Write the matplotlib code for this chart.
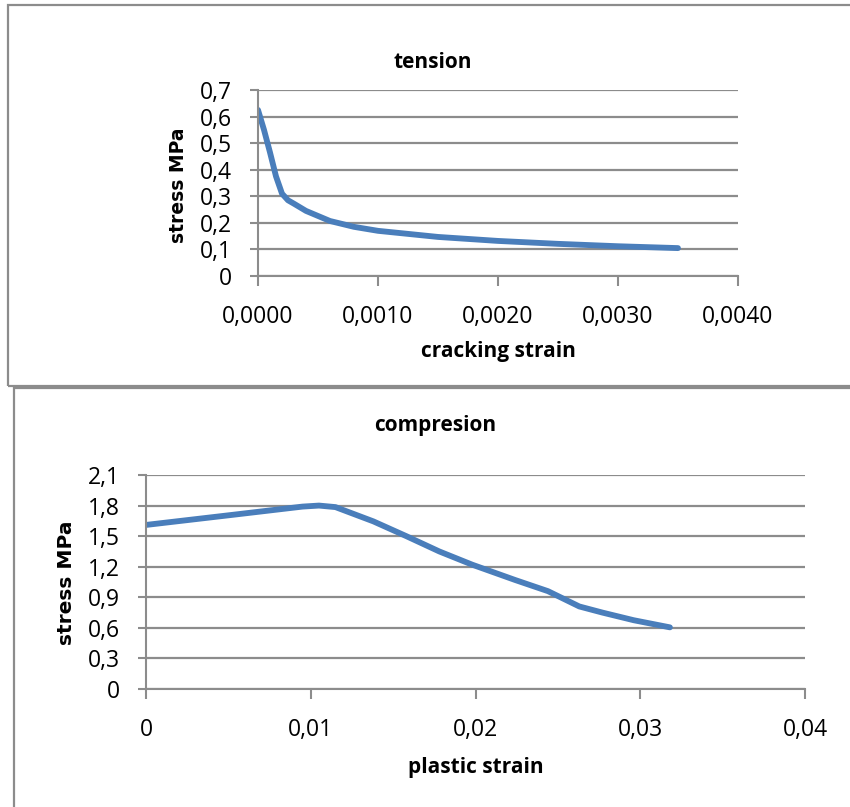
import matplotlib.pyplot as plt
from matplotlib.patches import Rectangle
from matplotlib.ticker import FuncFormatter

# tension: cracking strain vs stress
t_strain = [0.0, 0.00005, 0.0001, 0.00015, 0.0002, 0.00025, 0.0003, 0.0004, 0.0006,
            0.0008, 0.001, 0.0015, 0.002, 0.0025, 0.003, 0.0035]
t_stress = [0.625, 0.55, 0.465, 0.375, 0.31, 0.285, 0.272, 0.245, 0.207,
            0.185, 0.170, 0.147, 0.132, 0.121, 0.112, 0.105]

# compression: plastic strain vs stress
c_strain = [0.0, 0.0053, 0.0095, 0.0105, 0.0115, 0.0138, 0.0158, 0.0178, 0.0198,
            0.0224, 0.0244, 0.0263, 0.0277, 0.0296, 0.0318]
c_stress = [1.61, 1.71, 1.79, 1.80, 1.785, 1.645, 1.50, 1.35, 1.22,
            1.07, 0.96, 0.81, 0.75, 0.675, 0.605]

t_xticks = [0, 0.001, 0.002, 0.003, 0.004]
t_yticks = [0, 0.1, 0.2, 0.3, 0.4, 0.5, 0.6, 0.7]
c_xticks = [0, 0.01, 0.02, 0.03, 0.04]
c_yticks = [0, 0.3, 0.6, 0.9, 1.2, 1.5, 1.8, 2.1]

W, H = 850, 807
grey = '#8c8c8c'
blue = '#4a7ebb'
tick_font = 'Open Sans'

fig = plt.figure(figsize=(8.5, 8.07), dpi=100)

# chart frames
fig.add_artist(Rectangle((7.5 / W, 1 - 386 / H), 900 / W, 381 / H, transform=fig.transFigure,
                         fill=False, edgecolor=grey, lw=1.6))
fig.add_artist(Rectangle((14 / W, -0.05), 900 / W, 1 - 388 / H + 0.05, transform=fig.transFigure,
                         fill=False, edgecolor=grey, lw=1.6))


def comma(fmt):
    return FuncFormatter(lambda v, p: (fmt % v).replace('.', ','))


def style(ax, xt, yt, xfmt, yfmt):
    ax.set_xlim(xt[0], xt[-1])
    ax.set_ylim(yt[0], yt[-1])
    ax.set_xticks(xt)
    ax.set_yticks(yt)
    ax.xaxis.set_major_formatter(xfmt)
    ax.yaxis.set_major_formatter(yfmt)
    for s in ['top', 'right']:
        ax.spines[s].set_visible(False)
    for s in ['left', 'bottom']:
        ax.spines[s].set_color(grey)
        ax.spines[s].set_linewidth(1.5)
    ax.grid(axis='y', color=grey, lw=1.6)
    ax.set_axisbelow(True)
    ax.tick_params(axis='y', direction='out', length=6, width=1.5, color=grey, pad=13,
                   labelsize=16.5)
    ax.tick_params(axis='x', direction='out', length=7, width=1.5, color=grey, pad=14,
                   labelsize=16.5)
    for lab in ax.get_xticklabels() + ax.get_yticklabels():
        lab.set_fontfamily(tick_font)


ax1 = fig.add_axes([258 / W, 1 - 276 / H, 480 / W, 186 / H])
style(ax1, t_xticks, t_yticks, comma('%.4f'), FuncFormatter(lambda v, p: ('%.1f' % v).replace('.', ',') if v else '0'))
ax1.plot(t_strain, t_stress, color=blue, lw=4.2, solid_capstyle='round', solid_joinstyle='round')

ax2 = fig.add_axes([146 / W, 1 - 689 / H, 659 / W, 214 / H])
style(ax2, c_xticks, c_yticks, FuncFormatter(lambda v, p: ('%.2f' % v).replace('.', ',') if v else '0'),
      FuncFormatter(lambda v, p: ('%.1f' % v).replace('.', ',') if v else '0'))
ax2.plot(c_strain, c_stress, color=blue, lw=4.2, solid_capstyle='round', solid_joinstyle='round')

# titles and axis labels
fig.text(433 / W, 1 - 63 / H, 'tension', family='Open Sans', weight='bold', fontsize=15,
         ha='center', va='center')
fig.text(498 / W, 1 - 352 / H, 'cracking strain', family='Open Sans', weight='bold', fontsize=15,
         ha='center', va='center')
fig.text(178 / W, 1 - 185 / H, 'stress MPa', family='DejaVu Sans', weight='bold', fontsize=13.5,
         ha='center', va='center', rotation=90)

fig.text(435 / W, 1 - 425 / H, 'compresion', family='Open Sans', weight='bold', fontsize=15,
         ha='center', va='center')
fig.text(476 / W, 1 - 767 / H, 'plastic strain', family='Open Sans', weight='bold', fontsize=15,
         ha='center', va='center')
fig.text(67 / W, 1 - 583 / H, 'stress MPa', family='DejaVu Sans', weight='bold', fontsize=14.5,
         ha='center', va='center', rotation=90)

fig.savefig('out.png', dpi=100)
